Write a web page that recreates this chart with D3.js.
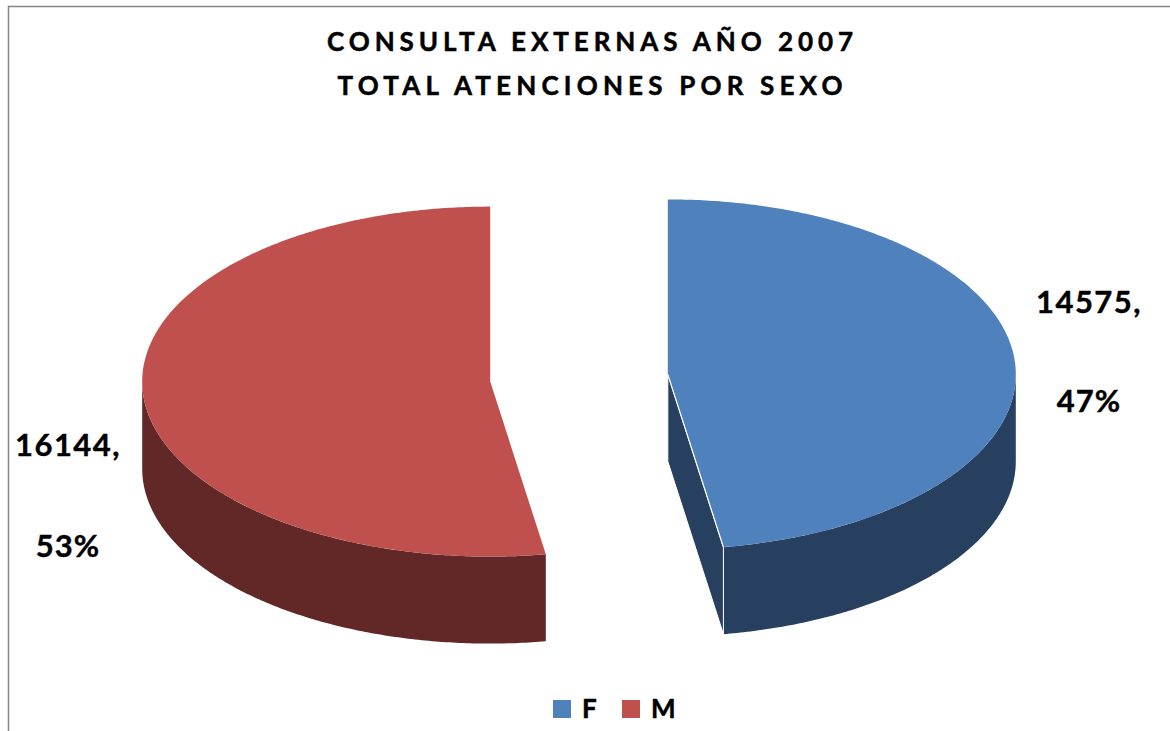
<!DOCTYPE html>
<html>
<head>
<meta charset="utf-8">
<script src="https://cdn.jsdelivr.net/npm/d3@7"></script>
<style>
  html, body { margin: 0; padding: 0; background: #fff; }
  svg { display: block; }
  text { font-family: Lato, "Open Sans", "DejaVu Sans", sans-serif; font-weight: bold; fill: #000; }
</style>
</head>
<body>
<svg id="chart" width="1170" height="731"></svg>
<script>
// Consultas externas 2007 — atenciones por sexo
const categories = ["F", "M"];
const values = [14575, 16144];
const percentLabels = ["47%", "53%"];
const titleLines = ["CONSULTA EXTERNAS AÑO 2007", "TOTAL ATENCIONES POR SEXO"];

const topColors = ["#4F81BD", "#C0504D"];
const sideColors = ["#284060", "#612827"];

const svg = d3.select("#chart");
const W = 1170, H = 731;

// chart frame
svg.append("path")
  .attr("d", `M8.5,${H} L8.5,6.5 L${W},6.5`)
  .attr("fill", "none").attr("stroke", "#868686").attr("stroke-width", 1.5);

// title
const titleY = [51, 95];
const titleW = [526, 505];
titleLines.forEach((t, i) => {
  svg.append("text")
    .attr("x", 590).attr("y", titleY[i])
    .attr("text-anchor", "middle")
    .attr("font-size", 26)
    .attr("stroke", "#000").attr("stroke-width", 0.5)
    .attr("textLength", titleW[i]).attr("lengthAdjust", "spacing")
    .text(t);
});

// 3D pie geometry (projected ellipse)
const cx = 579, cy = 378, rx = 348, ry = 175, depth = 87, explode = 0.256;

const pie = d3.pie().sort(null).startAngle(0).endAngle(2 * Math.PI);
const arcs = pie(values);

function pt(c, a, z) {
  return [c[0] + rx * Math.sin(a), c[1] - ry * Math.cos(a) + (z || 0)];
}
function arcPoints(c, a0, a1, z) {
  const n = Math.max(2, Math.ceil(Math.abs(a1 - a0) / 0.01));
  const s = d3.scaleLinear().domain([0, n]).range([a0, a1]);
  return d3.range(n + 1).map(i => pt(c, s(i), z));
}
const line = d3.line();

const g = svg.append("g");

arcs.forEach((d, i) => {
  const mid = (d.startAngle + d.endAngle) / 2;
  const c = [cx + explode * rx * Math.sin(mid), cy - explode * ry * Math.cos(mid)];
  const a0 = d.startAngle, a1 = d.endAngle;
  // cut faces: start face turns toward decreasing angle, end face toward increasing
  const faces = [[a0, -1], [a1, 1]].filter(([a, dir]) => dir * Math.sin(a) > 0.01);

  // outer wall: only the front half (angles between PI/2 and 3PI/2) is seen
  const w0 = Math.max(a0, Math.PI / 2), w1 = Math.min(a1, 3 * Math.PI / 2);
  if (w1 > w0) {
    const topPts = arcPoints(c, w0, w1, 0);
    const botPts = arcPoints(c, w1, w0, depth);
    g.append("path")
      .attr("d", line(topPts.concat(botPts)) + "Z")
      .attr("fill", sideColors[i]);
  }

  faces.forEach(([a]) => {
    const p = pt(c, a, 0);
    const face = [c, p, [p[0], p[1] + depth], [c[0], c[1] + depth]];
    g.append("path")
      .attr("d", line(face) + "Z")
      .attr("fill", sideColors[i])
      .attr("stroke", "#fff").attr("stroke-width", 1);
  });

  // top face
  const top = [c].concat(arcPoints(c, a0, a1, 0));
  g.append("path")
    .attr("d", line(top) + "Z")
    .attr("fill", topColors[i]);

  // light edge where the top meets a visible cut face
  faces.forEach(([a]) => {
    g.append("path")
      .attr("d", line([c, pt(c, a, 0)]))
      .attr("stroke", "#fff").attr("stroke-width", 1.2);
  });
});

// data labels
const labelPos = [[1089, 313, 412], [68, 456, 557]];
arcs.forEach((d, i) => {
  const [x, y1, y2] = labelPos[i];
  svg.append("text").attr("x", x).attr("y", y1).attr("text-anchor", "middle")
    .attr("font-size", 31).attr("letter-spacing", 1.5)
    .attr("stroke", "#000").attr("stroke-width", 0.4)
    .text(d3.format("d")(d.value) + ",");
  svg.append("text").attr("x", x).attr("y", y2).attr("text-anchor", "middle")
    .attr("font-size", 31).attr("letter-spacing", 1)
    .attr("stroke", "#000").attr("stroke-width", 0.4)
    .text(percentLabels[i]);
});

// legend
const legendX = [553, 622];
categories.forEach((c, i) => {
  svg.append("rect").attr("x", legendX[i]).attr("y", 700)
    .attr("width", 18).attr("height", 18).attr("fill", topColors[i]);
  svg.append("text").attr("x", legendX[i] + 29).attr("y", 718)
    .attr("font-size", 26).attr("stroke", "#000").attr("stroke-width", 0.5)
    .text(c);
});
</script>
</body>
</html>
